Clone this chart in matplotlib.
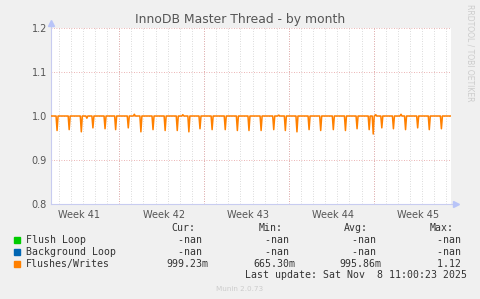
import matplotlib
matplotlib.use("Agg")
import matplotlib.pyplot as plt
import pandas as pd

W, H = 481, 299

# time window shown (33 days, munin "month")
t_start = pd.Timestamp("2025-10-06 09:00")
t_end = pd.Timestamp("2025-11-08 09:00")

# Flushes/Writes: ratio sits at 1.0, with a short dip once a day
dip_times = [
    "2025-10-06 21:00", "2025-10-07 21:00", "2025-10-08 21:00", "2025-10-09 20:00",
    "2025-10-10 20:00", "2025-10-11 17:00", "2025-10-12 18:00", "2025-10-13 19:00",
    "2025-10-14 19:00", "2025-10-15 19:00", "2025-10-16 19:00", "2025-10-17 18:00",
    "2025-10-18 16:00", "2025-10-19 16:00", "2025-10-20 18:00", "2025-10-21 18:00",
    "2025-10-22 17:00", "2025-10-23 17:00", "2025-10-24 18:00", "2025-10-25 17:00",
    "2025-10-26 16:00", "2025-10-27 16:00", "2025-10-28 15:00", "2025-10-29 16:00",
    "2025-10-30 16:00", "2025-10-31 15:00", "2025-11-01 15:00", "2025-11-01 23:00",
    "2025-11-02 16:00", "2025-11-03 15:00", "2025-11-04 15:00", "2025-11-05 15:00",
    "2025-11-06 14:00", "2025-11-07 14:00",
]
dip_values = [
    0.967, 0.969, 0.964, 0.973, 0.971, 0.969, 0.973, 0.964,
    0.969, 0.967, 0.967, 0.964, 0.971, 0.969, 0.969, 0.967,
    0.967, 0.967, 0.969, 0.967, 0.964, 0.969, 0.967, 0.969,
    0.967, 0.971, 0.969, 0.959, 0.973, 0.971, 0.969, 0.973,
    0.969, 0.971,
]
# small wiggles around 1.0
bump_times = ["2025-10-09 08:00", "2025-10-13 06:00", "2025-10-17 06:00",
              "2025-10-25 04:00", "2025-11-02 04:00", "2025-11-04 06:00"]
bump_values = [0.995, 1.004, 1.003, 1.002, 1.003, 1.004]
baseline = 1.0

legend_names = ["Flush Loop", "Background Loop", "Flushes/Writes"]
legend_colors = ["#00CC00", "#0066B3", "#FF8000"]
cur_vals = ["-nan ", "-nan ", "999.23m"]
min_vals = ["-nan ", "-nan ", "665.30m"]
avg_vals = ["-nan ", "-nan ", "995.86m"]
max_vals = ["-nan ", "-nan ", "1.12 "]

yticks = [0.8, 0.9, 1.0, 1.1, 1.2]
week_labels = ["Week 41", "Week 42", "Week 43", "Week 44", "Week 45"]
week_starts = pd.to_datetime(["2025-10-05", "2025-10-12", "2025-10-19",
                              "2025-10-26", "2025-11-02"])

# assemble the line: baseline with each event as a short spike
events = sorted(
    [(pd.Timestamp(t), v) for t, v in zip(dip_times, dip_values)]
    + [(pd.Timestamp(t), v) for t, v in zip(bump_times, bump_values)]
)
xs, ys = [t_start], [baseline]
step = pd.Timedelta(hours=2)
for t, v in events:
    xs += [t - step, t, t + step]
    ys += [baseline, v, baseline]
xs.append(t_end)
ys.append(baseline)

fig = plt.figure(figsize=(W / 100, H / 100), dpi=100, facecolor="#F0F0F0")
ax = fig.add_axes([51 / W, 1 - 204 / H, 400 / W, 176 / H])
ax.set_facecolor("white")

# grid: grey dotted per day, red dotted per week / per 0.1
for d in pd.date_range("2025-10-07", "2025-11-08", freq="D"):
    ax.axvline(d, color="#CFCFCF", lw=0.6, ls=(0, (1, 2)), zorder=1)
for d in week_starts[1:]:
    ax.axvline(d, color="#E39A9A", lw=0.6, ls=(0, (1, 2)), zorder=1.5)
for y in yticks[1:]:
    ax.axhline(y, color="#E39A9A", lw=0.6, ls=(0, (1, 2)), zorder=1.5)

ax.plot(xs, ys, color=legend_colors[2], lw=1.1, zorder=3)

ax.set_xlim(t_start, t_end)
ax.set_ylim(0.8, 1.2)
ax.set_yticks(yticks)
ax.set_yticklabels([f"{v:.1f}" for v in yticks])
ax.set_xticks(week_starts + pd.Timedelta(hours=88))
ax.set_xticklabels(week_labels)
ax.tick_params(axis="both", length=0, labelsize=7, colors="#555555", pad=3)
ax.tick_params(axis="x", pad=4)

for s in ["top", "right"]:
    ax.spines[s].set_visible(False)
for s in ["left", "bottom"]:
    ax.spines[s].set_color("#C8CCF0")
    ax.spines[s].set_linewidth(0.8)

# axis arrows
ax.plot([1.012], [0], marker=">", ms=4, color="#B8C4F8", transform=ax.transAxes,
        clip_on=False, zorder=5)
ax.plot([0], [1.03], marker="^", ms=4, color="#B8C4F8", transform=ax.transAxes,
        clip_on=False, zorder=5)
ax.plot([1.0, 1.012], [0, 0], color="#C8CCF0", lw=0.8, transform=ax.transAxes, clip_on=False)
ax.plot([0, 0], [1.0, 1.03], color="#C8CCF0", lw=0.8, transform=ax.transAxes, clip_on=False)


def px(x, y):
    return x / W, 1 - y / H


fig.text(*px(240, 19), "InnoDB Master Thread - by month", ha="center", va="center",
         fontsize=8.9, color="#555555")
fig.text(*px(470, 4), "RRDTOOL / TOBI OETIKER", ha="center", va="top", rotation=270,
         fontsize=5.5, color="#CCCCCC")

mono = dict(family="DejaVu Sans Mono", fontsize=7.15, color="#333333", va="center")
fig.text(*px(195, 228), "Cur:", ha="right", **mono)
fig.text(*px(283, 228), "Min:", ha="right", **mono)
fig.text(*px(368, 228), "Avg:", ha="right", **mono)
fig.text(*px(454, 228), "Max:", ha="right", **mono)

rows_y = [240, 252, 263.7]
for i, y in enumerate(rows_y):
    fig.patches.append(plt.Rectangle(px(14, y + 3), 6 / W, 6 / H, color=legend_colors[i],
                                     transform=fig.transFigure, figure=fig))
    fig.text(*px(26, y), legend_names[i], ha="left", **mono)
    fig.text(*px(208, y), cur_vals[i], ha="right", **mono)
    fig.text(*px(295, y), min_vals[i], ha="right", **mono)
    fig.text(*px(381.7, y), avg_vals[i], ha="right", **mono)
    fig.text(*px(466.7, y), max_vals[i], ha="right", **mono)

fig.text(*px(466.7, 275.5), "Last update: Sat Nov  8 11:00:23 2025", ha="right", **mono)
fig.text(*px(240, 288.7), "Munin 2.0.73", ha="center", va="center", fontsize=5.2,
         color="#CCCCCC")

fig.savefig("out.png", dpi=100, facecolor=fig.get_facecolor())
